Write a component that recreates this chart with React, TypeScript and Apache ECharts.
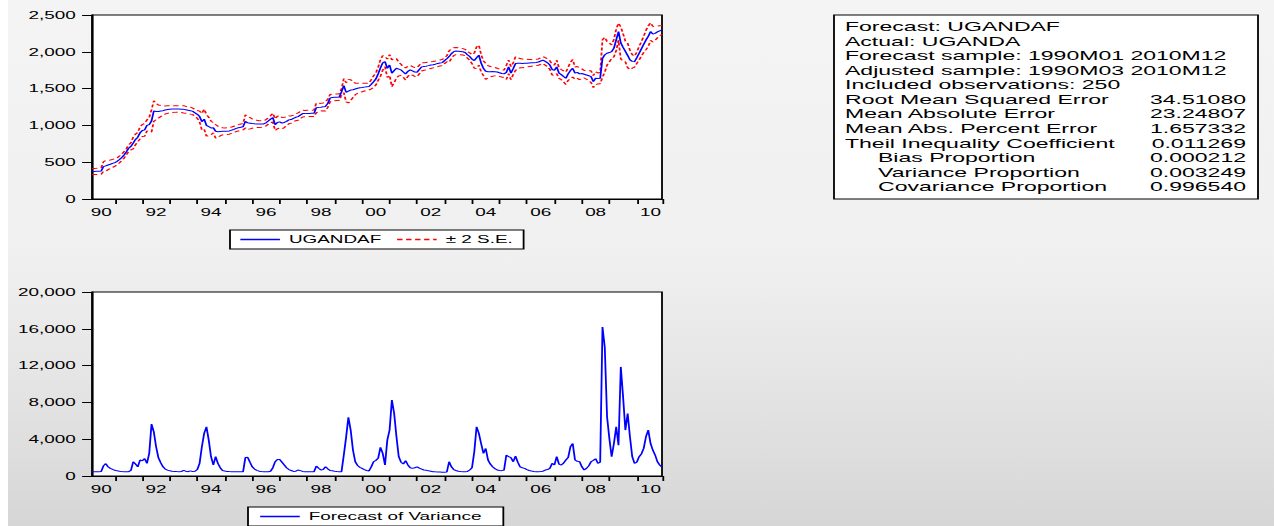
import React, { useEffect, useRef } from "react";
import * as echarts from "echarts";

// ---------------- data ----------------
// monthly observations 1990M03 .. 2010M12 (250 obs)
const forecast: number[] = [
  // 1990 (M03-M12)
  372, 374, 376, 378, 380, 440, 450, 462, 472, 484,
  // 1991
  495, 512, 538, 565, 598, 640, 690, 715, 760, 810, 840, 900,
  // 1992
  930, 940, 1000, 1010, 1060, 1195, 1190, 1188, 1195, 1200, 1210, 1215,
  // 1993
  1220, 1222, 1222, 1223, 1222, 1220, 1218, 1212, 1205, 1200, 1190, 1170,
  // 1994
  1150, 1120, 1050, 1085, 1000, 985, 965, 968, 920, 915, 918, 920,
  // 1995
  920, 922, 925, 935, 945, 960, 968, 975, 982, 1055, 1035, 1030,
  // 1996
  1025, 1022, 1020, 1018, 1018, 1020, 1035, 1060, 1085, 1105, 1010, 1040,
  // 1997
  1048, 1030, 1040, 1055, 1075, 1080, 1095, 1110, 1120, 1140, 1160, 1160,
  // 1998
  1162, 1163, 1164, 1165, 1240, 1245, 1248, 1252, 1258, 1300, 1370, 1380,
  // 1999
  1382, 1383, 1385, 1455, 1540, 1450, 1465, 1480, 1485, 1495, 1505, 1512,
  // 2000
  1515, 1520, 1524, 1527, 1560, 1594, 1630, 1700, 1780, 1850, 1866, 1776,
  // 2001
  1821, 1708, 1745, 1776, 1765, 1754, 1725, 1699, 1735, 1754, 1740, 1725,
  // 2002
  1722, 1760, 1795, 1800, 1805, 1812, 1820, 1825, 1832, 1840, 1848, 1853,
  // 2003
  1880, 1905, 1935, 1975, 2002, 2010, 2008, 2005, 2000, 1990, 1960, 1935,
  // 2004
  1900, 1880, 1920, 1955, 1845, 1775, 1735, 1730, 1728, 1732, 1730, 1725,
  // 2005
  1715, 1705, 1700, 1720, 1795, 1710, 1770, 1840, 1845, 1845, 1842, 1845,
  // 2006
  1846, 1848, 1850, 1852, 1855, 1860, 1875, 1888, 1870, 1850, 1820, 1760,
  // 2007
  1750, 1795, 1710, 1690, 1665, 1640, 1700, 1745, 1776, 1710, 1720, 1700,
  // 2008
  1705, 1695, 1685, 1675, 1662, 1595, 1640, 1638, 1642, 1910, 1960, 1980,
  // 2009
  1990, 2002, 2050, 2162, 2274, 2120, 2060, 2005, 1950, 1890, 1870, 1866,
  // 2010
  1920, 1980, 2040, 2100, 2160, 2210, 2275, 2240, 2250, 2270, 2285, 2297,
];

const variance: number[] = [
  // 1990 (M03-M12)
  460, 450, 450, 460, 480, 1100, 1350, 1000, 830, 720,
  // 1991
  620, 560, 520, 490, 470, 465, 470, 600, 1550, 1300, 1000, 1740,
  // 1992
  1650, 1900, 1375, 2460, 5640, 4800, 3180, 2000, 1450, 1000, 760, 640,
  // 1993
  560, 520, 500, 480, 470, 480, 620, 520, 470, 560, 480, 520,
  // 1994
  700, 1375, 3180, 4630, 5350, 3900, 2100, 1200, 2100, 1375, 900, 600,
  // 1995
  540, 500, 480, 470, 465, 465, 460, 460, 470, 2000, 2030, 1500,
  // 1996
  1000, 750, 620, 520, 480, 470, 460, 470, 520, 900, 1550, 1800,
  // 1997
  1800, 1500, 1190, 900, 700, 600, 500, 520, 650, 580, 500, 470,
  // 1998
  460, 460, 455, 465, 1085, 850, 650, 700, 1000, 780, 600, 560,
  // 1999
  520, 490, 470, 470, 2280, 4200, 6370, 4990, 2820, 1550, 1150, 950,
  // 2000
  830, 700, 600, 550, 1000, 1550, 1700, 1920, 3110, 2460, 1190, 3900,
  // 2001
  5000, 8250, 6800, 4270, 2100, 1500, 1300, 1660, 1200, 900, 830, 900,
  // 2002
  1000, 850, 750, 650, 620, 560, 520, 470, 450, 440, 430, 420,
  // 2003
  420, 430, 1550, 1000, 700, 600, 520, 480, 470, 460, 500, 650,
  // 2004
  900, 2640, 5350, 4630, 3500, 2460, 2990, 1740, 1300, 1000, 800, 650,
  // 2005
  600, 580, 650, 2280, 2100, 2000, 1550, 2170, 1500, 1000, 900, 830,
  // 2006
  700, 600, 540, 500, 470, 460, 480, 520, 650, 700, 830, 1375,
  // 2007
  1200, 2100, 1300, 1190, 1400, 1740, 2000, 3180, 3540, 1740, 1600, 1550,
  // 2008
  1000, 650, 830, 1100, 1550, 1700, 1880, 1375, 1500, 16200, 14000, 6430,
  // 2009
  4090, 2100, 3540, 5350, 3350, 11860, 8600, 4990, 6800, 4270, 2100, 1375,
  // 2010
  1500, 2100, 2400, 3000, 4270, 4990, 3540, 2800, 2280, 1550, 1200, 940,
];

const months: string[] = [];
for (let y = 1990; y <= 2010; y++) {
  for (let m = y === 1990 ? 3 : 1; m <= 12; m++) {
    months.push(`${y}M${String(m).padStart(2, "0")}`);
  }
}

// ±2 standard errors from the forecast variance
const upperBand = forecast.map((f, i) => Math.round(f + 2 * Math.sqrt(variance[i])));
const lowerBand = forecast.map((f, i) => Math.round(f - 2 * Math.sqrt(variance[i])));

const statLabels: string[] = [
  "Forecast: UGANDAF",
  "Actual: UGANDA",
  "Forecast sample: 1990M01 2010M12",
  "Adjusted sample: 1990M03 2010M12",
  "Included observations: 250",
  "Root Mean Squared Error",
  "Mean Absolute Error",
  "Mean Abs. Percent Error",
  "Theil Inequality Coefficient",
  "Bias Proportion",
  "Variance Proportion",
  "Covariance Proportion",
];
const statIndent: boolean[] = [false, false, false, false, false, false, false, false, false, true, true, true];
const statValues: string[] = ["", "", "", "", "", "34.51080", "23.24807", "1.657332", "0.011269", "0.000212", "0.003249", "0.996540"];

// ---------------- layout ----------------
const S = 1.8; // the reference is stretched horizontally
const W = 1274 / S;
const H = 526;
const px = (x: number) => x / S;
const FONT = '"Liberation Sans", Arial, sans-serif';
const BLUE = "#0000ff";
const RED = "#ff0000";

const tickFn = (i: number, v: string) => v.endsWith("M01") || i === months.length - 1;
const labelFn = (_i: number, v: string) => v.endsWith("M07") && parseInt(v.slice(0, 4), 10) % 2 === 0;

function xAxisFor(gridIndex: number) {
  return {
    type: "category",
    gridIndex,
    data: months,
    boundaryGap: false,
    axisLine: { show: true, lineStyle: { color: "#000", width: 1 } },
    axisTick: { show: true, interval: tickFn, length: 5, lineStyle: { color: "#000", width: 1 } },
    axisLabel: {
      interval: labelFn,
      formatter: (v: string) => v.slice(2, 4),
      margin: 8,
      fontSize: 10.5,
      color: "#000",
      fontFamily: FONT,
    },
    splitLine: { show: false },
  };
}

function yAxisFor(gridIndex: number, max: number, interval: number) {
  return {
    type: "value",
    gridIndex,
    min: 0,
    max,
    interval,
    axisLine: { show: true, lineStyle: { color: "#000", width: 1 } },
    axisTick: { show: true, length: 5.5, lineStyle: { color: "#000", width: 1 } },
    axisLabel: {
      margin: 9,
      fontSize: 10.5,
      color: "#000",
      fontFamily: FONT,
      formatter: (v: number) => v.toLocaleString("en-US"),
    },
    splitLine: { show: false },
  };
}

const boxLeft = px(834);
const boxTop = 15;
const boxW = px(1258) - px(834);
const boxH = 184;
const lineY0 = 26.5;
const lineStep = 14.57;

const statGraphics: any[] = [
  {
    type: "rect",
    shape: { x: boxLeft, y: boxTop, width: boxW, height: boxH },
    style: { fill: "#fff", stroke: "#000", lineWidth: 1 },
  },
];
statLabels.forEach((t, i) => {
  statGraphics.push({
    type: "text",
    x: statIndent[i] ? px(878) : px(845),
    y: lineY0 + i * lineStep,
    style: { text: t, fill: "#000", fontSize: 12.8, fontFamily: FONT, align: "left", verticalAlign: "middle" },
  });
  if (statValues[i]) {
    statGraphics.push({
      type: "text",
      x: px(1246),
      y: lineY0 + i * lineStep,
      style: { text: statValues[i], fill: "#000", fontSize: 12.8, fontFamily: FONT, align: "right", verticalAlign: "middle" },
    });
  }
});

const legendBase = {
  orient: "horizontal",
  itemWidth: 22,
  itemHeight: 11,
  backgroundColor: "#fff",
  borderColor: "#000",
  borderWidth: 1,
  borderRadius: 0,
  textStyle: { fontSize: 10.5, color: "#000", fontFamily: FONT },
  lineStyle: { width: 1.5 },
  itemStyle: { color: "rgba(0,0,0,0)", borderColor: "rgba(0,0,0,0)", borderWidth: 0, opacity: 0 },
  selectedMode: false,
};

const option: any = {
  animation: false,
  backgroundColor: "transparent",
  grid: [
    { left: px(92), top: 15, width: px(662) - px(92), height: 184, show: true, backgroundColor: "#fff", borderColor: "#000", borderWidth: 1 },
    { left: px(92), top: 292, width: px(662) - px(92), height: 184, show: true, backgroundColor: "#fff", borderColor: "#000", borderWidth: 1 },
  ],
  xAxis: [xAxisFor(0), xAxisFor(1)],
  yAxis: [yAxisFor(0, 2500, 500), yAxisFor(1, 20000, 4000)],
  legend: [
    { ...legendBase, data: ["UGANDAF", "± 2 S.E."], left: px(230), top: 230, itemGap: 8, padding: [4, 6, 4, 5] },
    { ...legendBase, data: ["Forecast of Variance"], left: px(248), top: 507, itemGap: 8, padding: [4, 12, 4, 6] },
  ],
  series: [
    {
      name: "± 2 S.E.",
      type: "line",
      xAxisIndex: 0,
      yAxisIndex: 0,
      data: upperBand,
      symbol: "none",
      lineStyle: { color: RED, width: 1, type: [3, 2] },
      itemStyle: { color: RED },
    },
    {
      name: "± 2 S.E.",
      type: "line",
      xAxisIndex: 0,
      yAxisIndex: 0,
      data: lowerBand,
      symbol: "none",
      lineStyle: { color: RED, width: 1, type: [3, 2] },
      itemStyle: { color: RED },
    },
    {
      name: "UGANDAF",
      type: "line",
      xAxisIndex: 0,
      yAxisIndex: 0,
      data: forecast,
      symbol: "none",
      lineStyle: { color: BLUE, width: 1 },
      itemStyle: { color: BLUE },
      z: 3,
    },
    {
      name: "Forecast of Variance",
      type: "line",
      xAxisIndex: 1,
      yAxisIndex: 1,
      data: variance,
      symbol: "none",
      lineStyle: { color: BLUE, width: 1 },
      itemStyle: { color: BLUE },
    },
  ],
  graphic: statGraphics,
};

export default function App() {
  const ref = useRef<HTMLDivElement>(null);
  useEffect(() => {
    const chart = echarts.init(ref.current as HTMLDivElement, null, { renderer: "svg", width: W, height: H });
    chart.setOption(option);
    return () => chart.dispose();
  }, []);
  return (
    <div
      style={{
        position: "fixed",
        left: 0,
        top: 0,
        width: 1274,
        height: 526,
        overflow: "hidden",
        background:
          "linear-gradient(to right, #ffffff 0px, #ffffff 8px, transparent 8px), linear-gradient(to bottom, #f4f4f4 0%, #f0f0f0 48%, #e6e6e6 70%, #d6d6d6 100%)",
      }}
    >
      <div ref={ref} style={{ width: W, height: H, transform: `scaleX(${S})`, transformOrigin: "0 0" }} />
    </div>
  );
}
